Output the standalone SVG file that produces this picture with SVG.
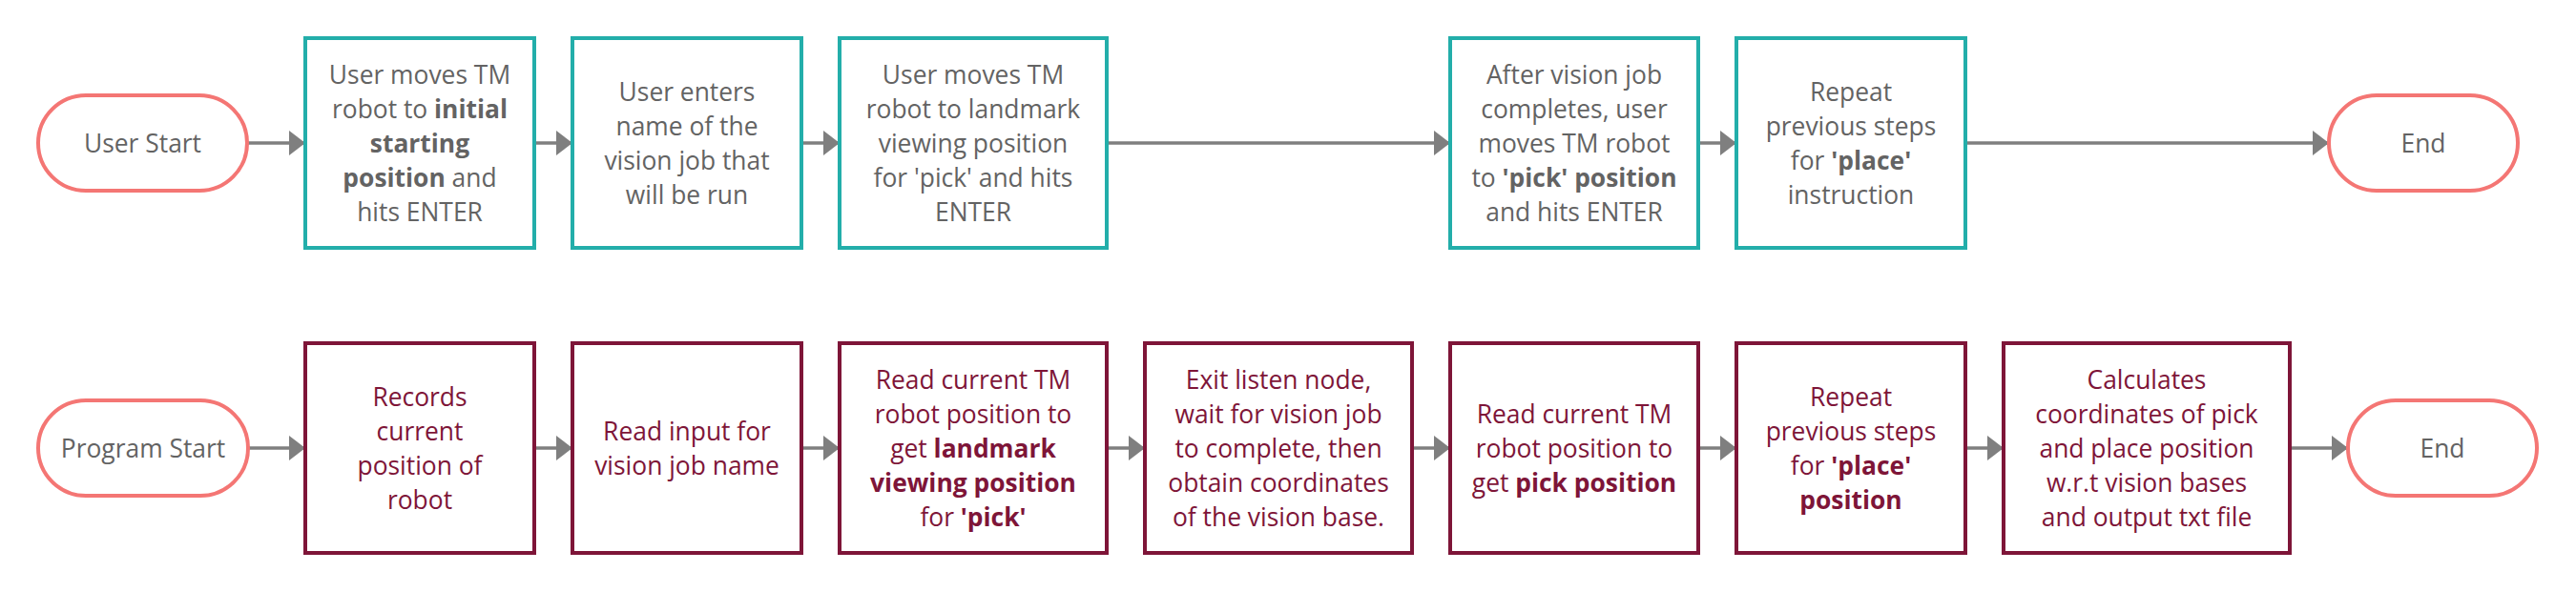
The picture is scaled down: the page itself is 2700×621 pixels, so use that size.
<svg xmlns="http://www.w3.org/2000/svg" width="2700" height="621" viewBox="0 0 2700 621">
<defs>
<style>
.bg{fill:#ffffff}
.pill{fill:#ffffff;stroke:#F47674;stroke-width:4}
.ubox{fill:#ffffff;stroke:#23AEAA;stroke-width:4}
.pbox{fill:#ffffff;stroke:#7E1538;stroke-width:4}
text{font-family:"Open Sans","Noto Sans","Liberation Sans",sans-serif;font-size:26.4px;text-anchor:middle}
.ut{fill:#636363}
.pt{fill:#7E1538}
.b{font-weight:700}
.conn{stroke:#7F7F7F;stroke-width:3.6;fill:none}
</style>
<marker id="ah" viewBox="0 0 17 26" refX="17" refY="13" markerWidth="17" markerHeight="26" markerUnits="userSpaceOnUse" orient="auto">
<path d="M0,0 L17,13 L0,26 Z" fill="#7F7F7F"/>
</marker>
</defs>
<rect class="bg" x="0" y="0" width="2700" height="621"/>
<g id="connectors">
<line class="conn" x1="259" y1="150" x2="320" y2="150" marker-end="url(#ah)"/>
<line class="conn" x1="560" y1="150" x2="600" y2="150" marker-end="url(#ah)"/>
<line class="conn" x1="840" y1="150" x2="880" y2="150" marker-end="url(#ah)"/>
<line class="conn" x1="1160" y1="150" x2="1520" y2="150" marker-end="url(#ah)"/>
<line class="conn" x1="1780" y1="150" x2="1820" y2="150" marker-end="url(#ah)"/>
<line class="conn" x1="2060" y1="150" x2="2441" y2="150" marker-end="url(#ah)"/>
<line class="conn" x1="260" y1="470" x2="320" y2="470" marker-end="url(#ah)"/>
<line class="conn" x1="560" y1="470" x2="600" y2="470" marker-end="url(#ah)"/>
<line class="conn" x1="840" y1="470" x2="880" y2="470" marker-end="url(#ah)"/>
<line class="conn" x1="1160" y1="470" x2="1200" y2="470" marker-end="url(#ah)"/>
<line class="conn" x1="1480" y1="470" x2="1520" y2="470" marker-end="url(#ah)"/>
<line class="conn" x1="1780" y1="470" x2="1820" y2="470" marker-end="url(#ah)"/>
<line class="conn" x1="2060" y1="470" x2="2100" y2="470" marker-end="url(#ah)"/>
<line class="conn" x1="2400" y1="470" x2="2461" y2="470" marker-end="url(#ah)"/>
</g>
<g id="user-start">
<rect class="pill" x="40" y="100" width="219" height="100" rx="50" ry="50"/>
<text class="ut" x="149.5" y="160">User Start</text>
</g>
<g id="u1">
<rect class="ubox" x="320" y="40" width="240" height="220"/>
<text class="ut" x="440" y="88">User moves TM</text>
<text class="ut" x="440" y="124">robot to <tspan class="b">initial</tspan></text>
<text class="ut b" x="440" y="160">starting</text>
<text class="ut" x="440" y="196"><tspan class="b">position</tspan> and</text>
<text class="ut" x="440" y="232">hits ENTER</text>
</g>
<g id="u2">
<rect class="ubox" x="600" y="40" width="240" height="220"/>
<text class="ut" x="720" y="106">User enters</text>
<text class="ut" x="720" y="142">name of the</text>
<text class="ut" x="720" y="178">vision job that</text>
<text class="ut" x="720" y="214">will be run</text>
</g>
<g id="u3">
<rect class="ubox" x="880" y="40" width="280" height="220"/>
<text class="ut" x="1020" y="88">User moves TM</text>
<text class="ut" x="1020" y="124">robot to landmark</text>
<text class="ut" x="1020" y="160">viewing position</text>
<text class="ut" x="1020" y="196">for 'pick' and hits</text>
<text class="ut" x="1020" y="232">ENTER</text>
</g>
<g id="u4">
<rect class="ubox" x="1520" y="40" width="260" height="220"/>
<text class="ut" x="1650" y="88">After vision job</text>
<text class="ut" x="1650" y="124">completes, user</text>
<text class="ut" x="1650" y="160">moves TM robot</text>
<text class="ut" x="1650" y="196">to <tspan class="b">'pick' position</tspan></text>
<text class="ut" x="1650" y="232">and hits ENTER</text>
</g>
<g id="u5">
<rect class="ubox" x="1820" y="40" width="240" height="220"/>
<text class="ut" x="1940" y="106">Repeat</text>
<text class="ut" x="1940" y="142">previous steps</text>
<text class="ut" x="1940" y="178">for <tspan class="b">'place'</tspan></text>
<text class="ut" x="1940" y="214">instruction</text>
</g>
<g id="user-end">
<rect class="pill" x="2441" y="100" width="198" height="100" rx="50" ry="50"/>
<text class="ut" x="2540" y="160">End</text>
</g>
<g id="program-start">
<rect class="pill" x="40" y="420" width="220" height="100" rx="50" ry="50"/>
<text class="ut" x="150" y="480">Program Start</text>
</g>
<g id="p1">
<rect class="pbox" x="320" y="360" width="240" height="220"/>
<text class="pt" x="440" y="426">Records</text>
<text class="pt" x="440" y="462">current</text>
<text class="pt" x="440" y="498">position of</text>
<text class="pt" x="440" y="534">robot</text>
</g>
<g id="p2">
<rect class="pbox" x="600" y="360" width="240" height="220"/>
<text class="pt" x="720" y="462">Read input for</text>
<text class="pt" x="720" y="498">vision job name</text>
</g>
<g id="p3">
<rect class="pbox" x="880" y="360" width="280" height="220"/>
<text class="pt" x="1020" y="408">Read current TM</text>
<text class="pt" x="1020" y="444">robot position to</text>
<text class="pt" x="1020" y="480">get <tspan class="b">landmark</tspan></text>
<text class="pt b" x="1020" y="516">viewing position</text>
<text class="pt" x="1020" y="552">for <tspan class="b">'pick'</tspan></text>
</g>
<g id="p4">
<rect class="pbox" x="1200" y="360" width="280" height="220"/>
<text class="pt" x="1340" y="408">Exit listen node,</text>
<text class="pt" x="1340" y="444">wait for vision job</text>
<text class="pt" x="1340" y="480">to complete, then</text>
<text class="pt" x="1340" y="516">obtain coordinates</text>
<text class="pt" x="1340" y="552">of the vision base.</text>
</g>
<g id="p5">
<rect class="pbox" x="1520" y="360" width="260" height="220"/>
<text class="pt" x="1650" y="444">Read current TM</text>
<text class="pt" x="1650" y="480">robot position to</text>
<text class="pt" x="1650" y="516">get <tspan class="b">pick position</tspan></text>
</g>
<g id="p6">
<rect class="pbox" x="1820" y="360" width="240" height="220"/>
<text class="pt" x="1940" y="426">Repeat</text>
<text class="pt" x="1940" y="462">previous steps</text>
<text class="pt" x="1940" y="498">for <tspan class="b">'place'</tspan></text>
<text class="pt b" x="1940" y="534">position</text>
</g>
<g id="p7">
<rect class="pbox" x="2100" y="360" width="300" height="220"/>
<text class="pt" x="2250" y="408">Calculates</text>
<text class="pt" x="2250" y="444">coordinates of pick</text>
<text class="pt" x="2250" y="480">and place position</text>
<text class="pt" x="2250" y="516">w.r.t vision bases</text>
<text class="pt" x="2250" y="552">and output txt file</text>
</g>
<g id="program-end">
<rect class="pill" x="2461" y="420" width="198" height="100" rx="50" ry="50"/>
<text class="ut" x="2560" y="480">End</text>
</g>
</svg>
